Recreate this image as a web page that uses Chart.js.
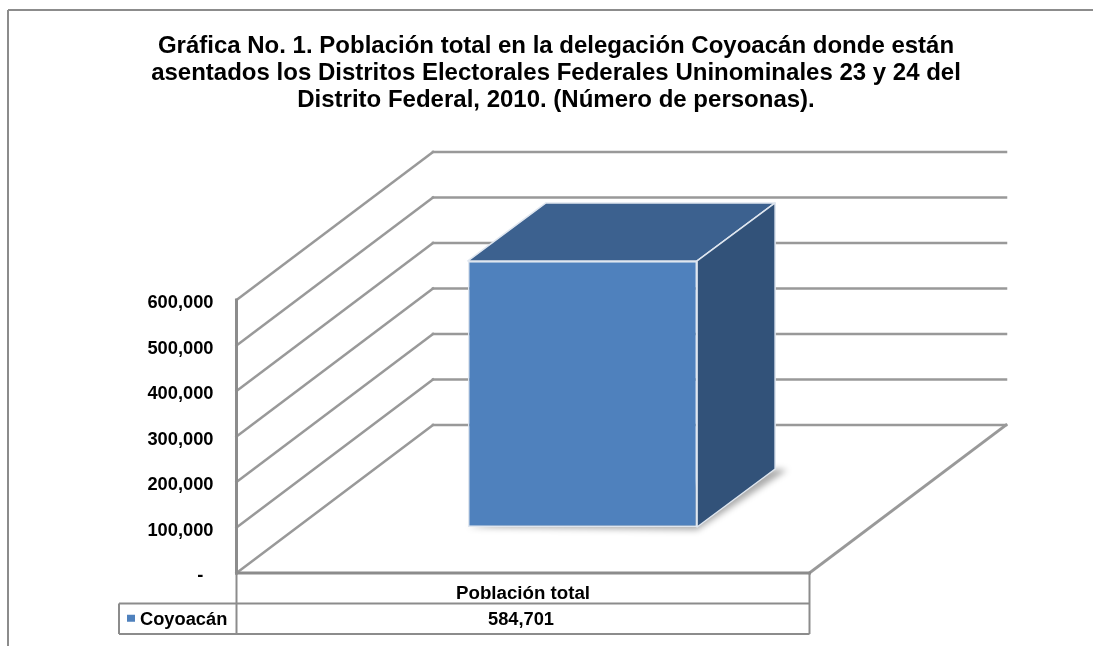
<!DOCTYPE html>
<html>
<head>
<meta charset="utf-8">
<title>Población total Coyoacán</title>
<script src="https://cdn.jsdelivr.net/npm/chart.js@4"></script>
<style>
  html, body { margin: 0; padding: 0; background: #fff; overflow: hidden; }
  canvas { display: block; }
</style>
</head>
<body>
<canvas id="chart" width="1093" height="646"></canvas>
<script>
const categories = ['Población total'];
const seriesName = 'Coyoacán';
const seriesValues = [584701];
const titleLines = [
  'Gráfica No. 1. Población total en la delegación Coyoacán donde están',
  'asentados los Distritos Electorales Federales Uninominales 23 y 24 del',
  'Distrito Federal, 2010. (Número de personas).'
];

const FONT = '"Liberation Sans", Arial, sans-serif';
const GRID = '#999999';
const LINE = '#8c8c8c';

// how far the back wall, the bar front and the bar depth sit from the front plane
const WALL = { dx: 196.5, dy: -148 };
const BAR_FRONT = { dx: 59.5, dy: -46 };
const BAR_DEPTH = { dx: 78, dy: -58 };
const TABLE_ROW = 30.5;
const LEGEND_LEFT = 119;

const fmt = v => v.toLocaleString('en-US');

function segment(ctx, x1, y1, x2, y2, color, width) {
  ctx.strokeStyle = color;
  ctx.lineWidth = width;
  ctx.beginPath();
  ctx.moveTo(x1, y1);
  ctx.lineTo(x2, y2);
  ctx.stroke();
}

function polygon(ctx, pts, fill, stroke) {
  ctx.beginPath();
  pts.forEach((p, i) => i ? ctx.lineTo(p[0], p[1]) : ctx.moveTo(p[0], p[1]));
  ctx.closePath();
  ctx.fillStyle = fill;
  ctx.fill();
  if (stroke) {
    ctx.strokeStyle = stroke;
    ctx.lineWidth = 1.5;
    ctx.lineJoin = 'round';
    ctx.stroke();
  }
}

const box3d = {
  id: 'box3d',
  afterLayout(chart) {
    // title is centred a bit right of the page middle, not on the padded plot
    chart.titleBlock.left = 0;
    chart.titleBlock.right = chart.width + 19;
  },
  beforeDraw(chart) {
    const ctx = chart.ctx;
    ctx.save();
    ctx.fillStyle = '#fff';
    ctx.fillRect(0, 0, chart.width, chart.height);
    segment(ctx, 8, 10, chart.width, 10, LINE, 2);
    segment(ctx, 8, 10, 8, chart.height, LINE, 2);
    ctx.restore();
  },
  beforeDatasetsDraw(chart) {
    const { ctx, chartArea: a, scales: { y } } = chart;
    ctx.save();
    ctx.lineCap = 'square';
    y.ticks.forEach(t => {
      const py = y.getPixelForValue(t.value);
      const bx = a.left + WALL.dx, by = py + WALL.dy;
      segment(ctx, a.left, py, bx, by, GRID, 2.5);
      if (t.value > 0) segment(ctx, bx, by, a.right + WALL.dx, by, GRID, 2.5);
    });
    const by0 = a.bottom + WALL.dy;
    segment(ctx, a.left + WALL.dx, by0, a.right + WALL.dx, by0, GRID, 2.5);
    segment(ctx, a.right, a.bottom, a.right + WALL.dx, by0, GRID, 3);
    segment(ctx, a.left, a.top, a.left, a.bottom, LINE, 3);
    segment(ctx, a.left, a.bottom, a.right, a.bottom, LINE, 3);

    // side and top faces, built on the bar the library laid out
    const bar = chart.getDatasetMeta(0).data[0];
    const l = bar.x - bar.width / 2 + BAR_FRONT.dx;
    const r = bar.x + bar.width / 2 + BAR_FRONT.dx;
    const t = bar.y + BAR_FRONT.dy;
    const b = bar.base + BAR_FRONT.dy;
    const d = BAR_DEPTH;

    ctx.save();
    ctx.filter = 'blur(3px)';
    polygon(ctx, [[l, b], [r, b + 3], [r + d.dx + 12, b + d.dy + 1], [r + d.dx, b + d.dy]], 'rgba(0,0,0,0.33)');
    ctx.restore();

    polygon(ctx, [[l, t], [l + d.dx, t + d.dy], [r + d.dx, t + d.dy], [r, t]], '#3c618f', '#dfe6ef');
    polygon(ctx, [[r, t], [r + d.dx, t + d.dy], [r + d.dx, b + d.dy], [r, b]], '#325279', '#dfe6ef');
    ctx.restore();
  },
  beforeDatasetDraw(chart) {
    chart.ctx.save();
    chart.ctx.translate(BAR_FRONT.dx, BAR_FRONT.dy);
  },
  afterDatasetDraw(chart) {
    chart.ctx.restore();
  },
  afterDraw(chart) {
    // data table under the floor
    const { ctx, chartArea: a } = chart;
    const rowTop = a.bottom + TABLE_ROW;
    const rowBottom = rowTop + TABLE_ROW;
    ctx.save();
    segment(ctx, a.left, a.bottom, a.left, rowBottom, LINE, 2);
    segment(ctx, a.right, a.bottom, a.right, rowBottom, LINE, 2);
    segment(ctx, LEGEND_LEFT, rowTop, a.right, rowTop, LINE, 2);
    segment(ctx, LEGEND_LEFT, rowBottom, a.right, rowBottom, LINE, 2);
    segment(ctx, LEGEND_LEFT, rowTop, LEGEND_LEFT, rowBottom, LINE, 2);

    const midY = rowTop + TABLE_ROW / 2;
    ctx.fillStyle = '#4f81bd';
    ctx.fillRect(LEGEND_LEFT + 8, midY - 4, 8, 7);
    ctx.fillStyle = '#000';
    ctx.font = 'bold 18.3px ' + FONT;
    ctx.textBaseline = 'middle';
    ctx.textAlign = 'left';
    ctx.fillText(seriesName, LEGEND_LEFT + 21, midY + 1);
    ctx.textAlign = 'center';
    ctx.fillText(fmt(seriesValues[0]), (a.left + a.right) / 2 - 2, midY + 1);
    ctx.restore();
  }
};

new Chart(document.getElementById('chart'), {
  type: 'bar',
  plugins: [box3d],
  data: {
    labels: categories,
    datasets: [{
      label: seriesName,
      data: seriesValues,
      backgroundColor: '#4f81bd',
      borderColor: '#dfe6ef',
      borderWidth: 1.5,
      borderSkipped: false,
      barPercentage: 0.4,
      categoryPercentage: 1,
      clip: false
    }]
  },
  options: {
    responsive: false,
    animation: false,
    layout: { padding: { left: 0, right: 283.5, top: 0, bottom: 43 } },
    plugins: {
      legend: { display: false },
      tooltip: { enabled: false },
      title: {
        display: true,
        text: titleLines,
        color: '#000',
        font: { family: FONT, size: 24, weight: 'bold', lineHeight: 1.125 },
        padding: { top: 32.5, bottom: 186.5 }
      }
    },
    scales: {
      x: {
        grid: { display: false, drawTicks: false },
        border: { display: false },
        afterFit: s => { s.height = 30; },
        ticks: { color: '#000', padding: 10, maxRotation: 0, font: { family: FONT, size: 18.7, weight: 'bold' } }
      },
      y: {
        min: 0,
        max: 600000,
        afterFit: s => { s.width = 236.5; },
        grid: { display: false, drawTicks: false },
        border: { display: false },
        ticks: {
          stepSize: 100000,
          color: '#000',
          padding: 23,
          labelOffset: 3,
          font: { family: FONT, size: 18.3, weight: 'bold' },
          callback: v => v === 0 ? '-  ' : fmt(v)
        }
      }
    }
  }
});
</script>
</body>
</html>
